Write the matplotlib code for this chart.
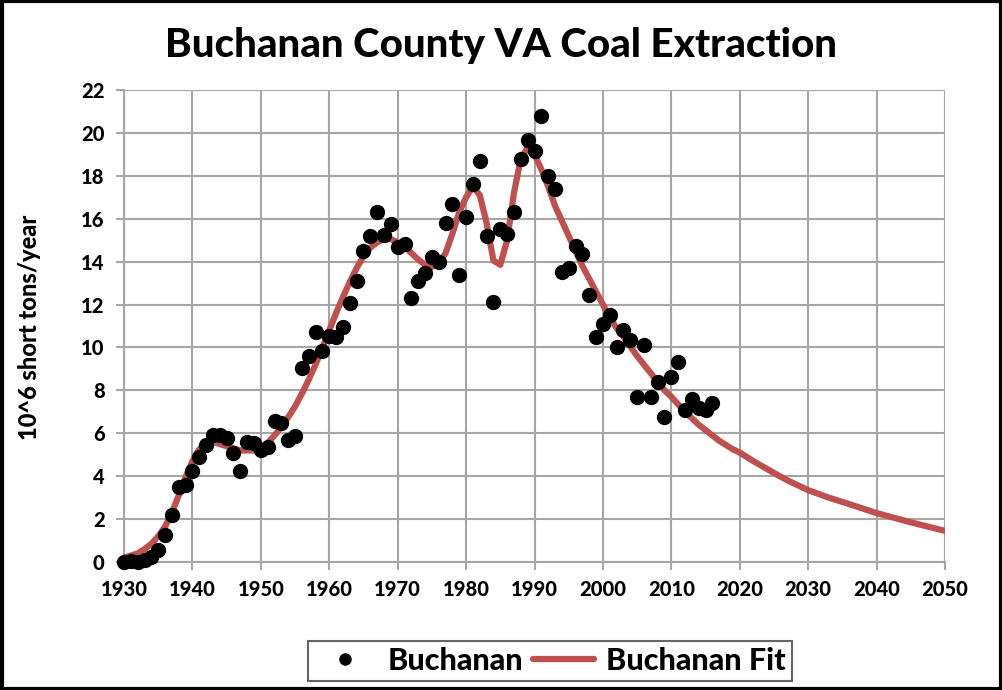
import matplotlib
matplotlib.use("Agg")
import matplotlib.pyplot as plt
from matplotlib.patches import Rectangle

years = list(range(1930, 2017))
production = [0.02, 0.03, 0.0, 0.08, 0.25, 0.55, 1.25, 2.2, 3.5, 3.6,
              4.25, 4.9, 5.45, 5.9, 5.9, 5.8, 5.1, 4.25, 5.6, 5.55,
              5.2, 5.35, 6.55, 6.5, 5.7, 5.85, 9.05, 9.6, 10.7, 9.85,
              10.55, 10.5, 10.95, 12.05, 13.1, 14.5, 15.2, 16.3, 15.25, 15.75,
              14.7, 14.8, 12.3, 13.1, 13.45, 14.2, 14.0, 15.8, 16.7, 13.4,
              16.1, 17.6, 18.7, 15.2, 12.1, 15.5, 15.3, 16.3, 18.8, 19.65,
              19.15, 20.8, 18.0, 17.4, 13.5, 13.7, 14.75, 14.35, 12.45, 10.5,
              11.1, 11.5, 10.0, 10.8, 10.35, 7.7, 10.1, 7.7, 8.4, 6.75,
              8.6, 9.3, 7.1, 7.6, 7.2, 7.1, 7.4]

fit_years = list(range(1930, 2021)) + [2022, 2025, 2027, 2030, 2033, 2036, 2040, 2045, 2050]
fit_values = [0.2, 0.3, 0.4, 0.6, 0.85, 1.2, 1.65, 2.3, 3.1, 3.95,
              4.7, 5.25, 5.55, 5.6, 5.5, 5.4, 5.3, 5.2, 5.2, 5.2,
              5.3, 5.55, 5.9, 6.3, 6.75, 7.25, 7.85, 8.5, 9.2, 10.0,
              10.8, 11.6, 12.35, 13.05, 13.7, 14.25, 14.65, 14.9, 15.05, 15.05,
              14.9, 14.7, 14.4, 14.1, 13.85, 13.75, 13.9, 14.4, 15.3, 16.3,
              17.0, 17.5, 17.1, 15.8, 14.05, 13.85, 15.0, 17.2, 18.8, 19.3,
              19.0, 18.3, 17.5, 16.6, 15.9, 15.2, 14.5, 13.8, 13.2, 12.6,
              12.0, 11.4, 10.9, 10.5, 10.05, 9.6, 9.2, 8.8, 8.4, 8.0,
              7.7, 7.35, 7.0, 6.7, 6.4, 6.15, 5.9, 5.65, 5.45, 5.25,
              5.1, 4.7, 4.15, 3.8, 3.35, 3.0, 2.7, 2.28, 1.85, 1.45]

x_ticks = list(range(1930, 2051, 10))
y_ticks = list(range(0, 23, 2))

plt.rcParams['font.family'] = ['Lato', 'DejaVu Sans']
plt.rcParams['font.weight'] = 'bold'

fig = plt.figure(figsize=(10.03, 6.90), dpi=100)
ax = fig.add_axes([124/1003, 1-562/690, (945-124)/1003, (562-90)/690])

grid_c = '#a6a6a6'
ax.plot(fit_years, fit_values, color='#c0504d', lw=4.5, solid_capstyle='round',
        label='Buchanan Fit', zorder=3)
ax.plot(years, production, 'o', color='black', ms=10, label='Buchanan', zorder=4,
        clip_on=False)

ax.set_xlim(1930, 2050)
ax.set_ylim(0, 22)
ax.set_xticks(x_ticks)
ax.set_yticks(y_ticks)
ax.grid(True, color=grid_c, lw=1.5)
ax.set_axisbelow(True)
for s in ['top', 'right']:
    ax.spines[s].set_visible(False)
for s in ['left', 'bottom']:
    ax.spines[s].set_color(grid_c)
    ax.spines[s].set_linewidth(1.5)
ax.tick_params(axis='both', direction='out', length=6, width=1.5, color=grid_c,
               labelsize=14.5, labelcolor='black')
ax.tick_params(axis='x', pad=7)
ax.tick_params(axis='y', pad=8)
for lbl in ax.get_xticklabels() + ax.get_yticklabels():
    lbl.set_fontweight('black')

fig.text(0.5, 1-45/690, 'Buchanan County VA Coal Extraction', ha='center', va='center',
         fontsize=29, fontweight='black')
fig.text(30/1003, 1-327/690, '10^6 short tons/year', rotation=90, ha='center', va='center',
         fontsize=17, fontweight='black')

h, l = ax.get_legend_handles_labels()
leg = fig.legend([h[1], h[0]], [l[1], l[0]], loc='center', bbox_to_anchor=(550/1003, 1-661/690),
                 ncol=2, frameon=True, fancybox=False, handlelength=2.0, markerscale=0.8,
                 columnspacing=0.3, handletextpad=0.4, borderpad=0.2,
                 prop={'weight': 'black', 'size': 22})
leg.get_frame().set_edgecolor('#404040')
leg.get_frame().set_linewidth(1.5)

fig.patches.append(Rectangle((0.002, 0.002), 0.996, 0.996, transform=fig.transFigure,
                             fill=False, edgecolor='black', lw=3))

fig.savefig('out.png', dpi=100)
